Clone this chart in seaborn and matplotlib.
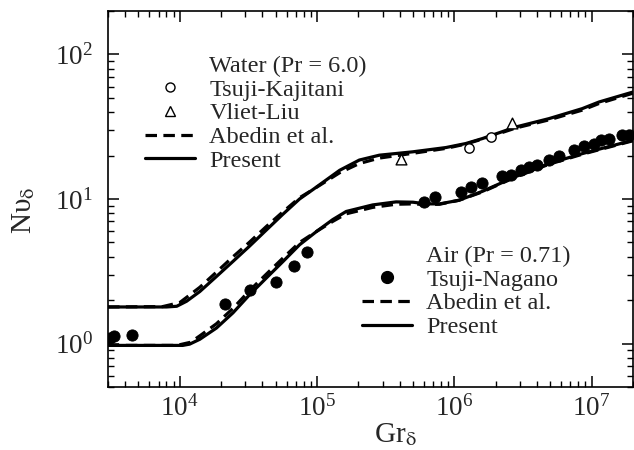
import matplotlib
matplotlib.use("Agg")
import matplotlib.pyplot as plt
import seaborn as sns
from matplotlib.lines import Line2D
from matplotlib.ticker import LogLocator, NullFormatter

# ---------------- data ----------------
# Water (Pr = 6.0) - Present
water_present_gr = [3e3, 8.0e3, 9.5e3, 1.12e4, 1.4e4, 1.85e4, 2.44e4, 3.2e4, 4.27e4, 5.6e4,
                    7.45e4, 9.3e4, 1.46e5, 2.03e5, 2.84e5, 4.96e5, 8.67e5, 1.21e6, 1.6e6,
                    2.8e6, 4.89e6, 8.53e6, 1.13e7, 2e7]
water_present_nu = [1.79, 1.79, 1.81, 1.96, 2.29, 2.91, 3.70, 4.69, 6.1, 7.8,
                    10.0, 11.6, 15.8, 18.6, 20.1, 21.2, 22.7, 24.2, 26.2,
                    31.5, 36.0, 42.2, 46.9, 55.0]
# Water - Abedin et al.
water_abedin_gr = [3e3, 7.5e3, 1.0e4, 1.4e4, 1.85e4, 2.44e4, 3.2e4, 4.27e4, 5.6e4, 7.45e4,
                   9.3e4, 1.46e5, 2.03e5, 2.84e5, 4.96e5, 8.67e5, 1.21e6, 1.6e6, 2.8e6,
                   4.89e6, 8.53e6, 1.13e7, 2e7]
water_abedin_nu = [1.79, 1.80, 1.92, 2.45, 3.12, 3.98, 5.0, 6.45, 8.1, 10.2,
                   11.6, 15.2, 17.6, 19.2, 20.7, 22.4, 24.0, 26.0, 31.0,
                   35.3, 41.2, 45.8, 54.0]
# Air (Pr = 0.71) - Present
air_present_gr = [3e3, 1.05e4, 1.18e4, 1.4e4, 1.85e4, 2.44e4, 3.23e4, 4.27e4, 5.64e4, 7.45e4,
                  1.0e5, 1.3e5, 1.63e5, 2.54e5, 3.76e5, 5.0e5, 6.2e5, 7.8e5, 1.08e6, 1.6e6,
                  2.8e6, 4.89e6, 8.53e6, 1.19e7, 2e7]
air_present_nu = [0.97, 0.97, 0.99, 1.07, 1.28, 1.63, 2.18, 2.84, 3.69, 4.82,
                  6.0, 7.2, 8.2, 9.1, 9.55, 9.5, 9.25, 9.25, 9.8, 11.3,
                  14.3, 17.6, 20.6, 22.4, 25.5]
# Air - Abedin et al.
air_abedin_gr = [3e3, 9.5e3, 1.2e4, 1.4e4, 1.85e4, 2.44e4, 3.23e4, 4.27e4, 5.64e4, 7.45e4,
                 1.0e5, 1.3e5, 1.63e5, 2.54e5, 3.76e5, 5.0e5, 6.2e5, 7.8e5, 1.08e6, 1.6e6,
                 2.8e6, 4.89e6, 8.53e6, 1.19e7, 2e7]
air_abedin_nu = [0.97, 0.97, 1.02, 1.13, 1.37, 1.75, 2.33, 3.02, 3.9, 5.0,
                 6.0, 7.0, 7.9, 8.75, 9.2, 9.25, 9.15, 9.2, 9.8, 11.2,
                 14.2, 17.4, 20.4, 22.2, 25.3]
# Experiments
kajitani_gr = [1.28e6, 1.84e6]
kajitani_nu = [22.4, 26.7]
vliet_gr = [4.08e5, 2.64e6]
vliet_nu = [18.8, 33.6]
nagano_gr = [3.1e3, 3.3e3, 4.5e3, 2.12e4, 3.23e4, 5.05e4, 6.77e4, 8.4e4, 6.03e5, 7.25e5,
             1.11e6, 1.32e6, 1.6e6, 2.24e6, 2.57e6, 3.04e6, 3.49e6, 4.0e6, 4.89e6, 5.78e6,
             7.42e6, 8.77e6, 1.04e7, 1.16e7, 1.33e7, 1.67e7, 1.86e7]
nagano_nu = [1.10, 1.12, 1.15, 1.89, 2.36, 2.65, 3.45, 4.28, 9.49, 10.3,
             11.1, 12.1, 13.0, 14.4, 14.6, 15.8, 16.7, 17.2, 18.6, 19.8,
             22.0, 23.2, 24.2, 25.5, 26.2, 27.6, 27.6]

water_title = "Water (Pr = 6.0)"
air_title = "Air (Pr = 0.71)"
lbl_kajitani = "Tsuji-Kajitani"
lbl_vliet = "Vliet-Liu"
lbl_nagano = "Tsuji-Nagano"
lbl_abedin = "Abedin et al."
lbl_present = "Present"

# ---------------- style ----------------
sns.set_style("ticks")
plt.rcParams['font.family'] = ['Liberation Serif', 'DejaVu Serif']
plt.rcParams['mathtext.fontset'] = 'stix'

W, H = 634, 450
fig = plt.figure(figsize=(W / 100, H / 100), dpi=100)
ax = fig.add_axes([108 / W, 1 - 387 / H, (633 - 108) / W, (387 - 11) / H])
ax.set_xscale('log')
ax.set_yscale('log')

LW = 2.3
DASH = (0, (3.6, 2.0))

sns.lineplot(x=water_present_gr, y=water_present_nu, ax=ax, color='black', linewidth=LW,
             estimator=None, sort=False, legend=False)
sns.lineplot(x=water_abedin_gr, y=water_abedin_nu, ax=ax, color='black', linewidth=LW,
             linestyle=DASH, estimator=None, sort=False, legend=False)
sns.lineplot(x=air_present_gr, y=air_present_nu, ax=ax, color='black', linewidth=LW,
             estimator=None, sort=False, legend=False)
sns.lineplot(x=air_abedin_gr, y=air_abedin_nu, ax=ax, color='black', linewidth=LW,
             linestyle=DASH, estimator=None, sort=False, legend=False)

sns.scatterplot(x=nagano_gr, y=nagano_nu, ax=ax, color='black', edgecolor='black',
                s=65, marker='o', zorder=4, legend=False)
sns.scatterplot(x=kajitani_gr, y=kajitani_nu, ax=ax, facecolor='white', edgecolor='black',
                linewidth=1.0, s=45, marker='o', zorder=4, legend=False)
sns.scatterplot(x=vliet_gr, y=vliet_nu, ax=ax, facecolor='white', edgecolor='black',
                linewidth=1.0, s=60, marker='^', zorder=4, legend=False)

ax.set_xlim(3e3, 2e7)
ax.set_ylim(0.5, 200)

ax.xaxis.set_major_locator(LogLocator(base=10, numticks=20))
ax.xaxis.set_minor_locator(LogLocator(base=10, subs=range(2, 10), numticks=40))
ax.yaxis.set_major_locator(LogLocator(base=10, numticks=20))
ax.yaxis.set_minor_locator(LogLocator(base=10, subs=range(2, 10), numticks=40))
ax.xaxis.set_minor_formatter(NullFormatter())
ax.yaxis.set_minor_formatter(NullFormatter())

ax.tick_params(which='both', direction='in', top=True, right=True, color='black')
ax.tick_params(which='major', length=8, width=1.1, labelsize=19.5)
ax.tick_params(which='minor', length=4.5, width=1.0)
ax.tick_params(axis='x', which='major', pad=6)
ax.tick_params(axis='y', which='major', pad=11)
for sp in ax.spines.values():
    sp.set_linewidth(1.2)
    sp.set_color('black')

ax.set_xlabel(r"Gr$_{\mathrm{\delta}}$", fontsize=21)
ax.set_ylabel("Nυ" + r"$_{\mathrm{\delta}}$", fontsize=21)
ax.xaxis.set_label_coords(0.547, -0.09)
ax.yaxis.set_label_coords(-0.135, 0.47)

# ---------------- legends ----------------
blank = Line2D([], [], linestyle='none', marker='None')
h_circ = Line2D([], [], linestyle='none', marker='o', mfc='white', mec='black', ms=6.5, mew=1.0)
h_tri = Line2D([], [], linestyle='none', marker='^', mfc='white', mec='black', ms=7.5, mew=1.0)
h_dot = Line2D([], [], linestyle='none', marker='o', mfc='black', mec='black', ms=8.5)
h_dash = Line2D([], [], color='black', lw=LW, linestyle=DASH)
h_solid = Line2D([], [], color='black', lw=LW)

leg_kw = dict(frameon=False, handlelength=2.05, handletextpad=0.6, labelspacing=0.07,
              borderpad=0, borderaxespad=0, loc='upper left', prop={'size': 17.5},
              bbox_transform=fig.transFigure)

leg1 = ax.legend([blank, h_circ, h_tri, h_dash, h_solid],
                 [water_title, lbl_kajitani, lbl_vliet, lbl_abedin, lbl_present],
                 bbox_to_anchor=(145 / W, 1 - 55 / H), **leg_kw)
ax.add_artist(leg1)
leg2 = ax.legend([blank, h_dot, h_dash, h_solid],
                 [air_title, lbl_nagano, lbl_abedin, lbl_present],
                 bbox_to_anchor=(362 / W, 1 - 245 / H), **leg_kw)

fig.savefig("out.png", dpi=100, facecolor='white')
